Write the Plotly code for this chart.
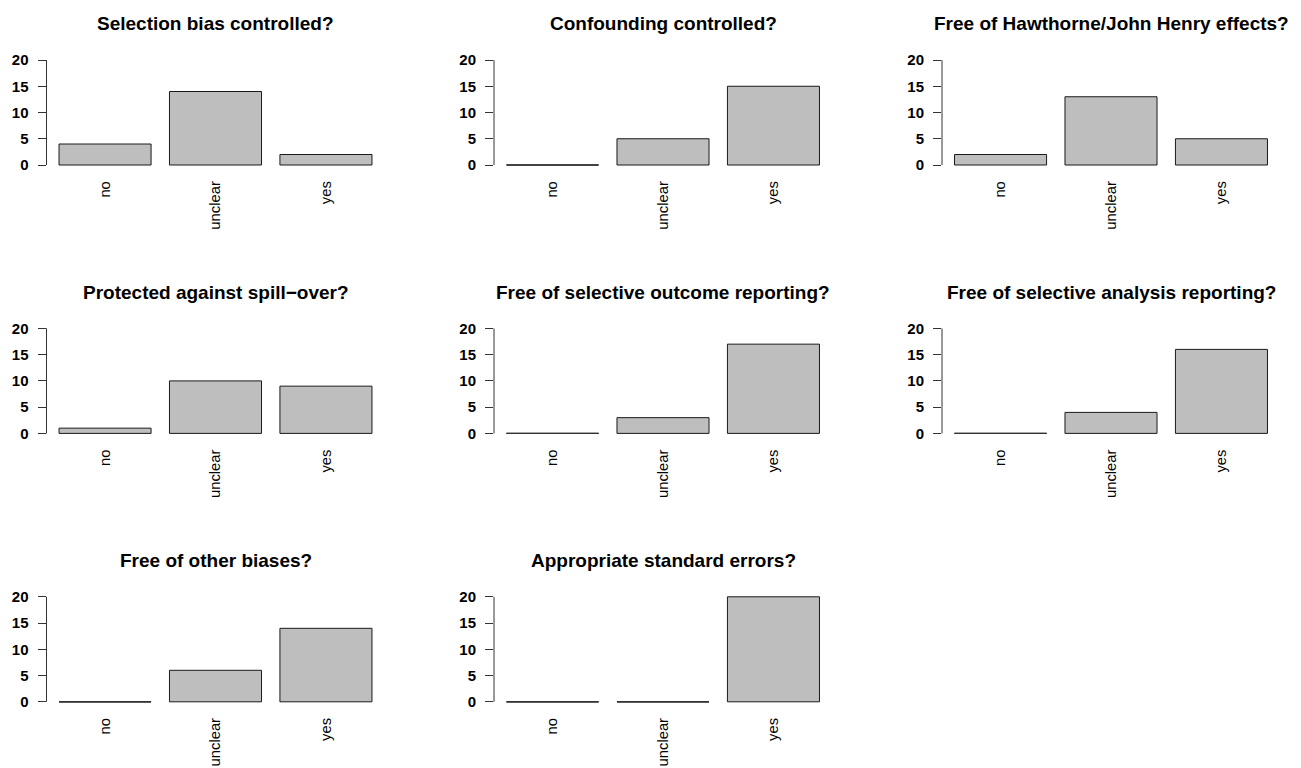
import plotly.graph_objects as go

# ---- data ----
categories = ["no", "unclear", "yes"]
titles = [
    "Selection bias controlled?",
    "Confounding controlled?",
    "Free of Hawthorne/John Henry effects?",
    "Protected against spill−over?",
    "Free of selective outcome reporting?",
    "Free of selective analysis reporting?",
    "Free of other biases?",
    "Appropriate standard errors?",
]
selection_bias = [4, 14, 2]
confounding = [0, 5, 15]
hawthorne = [2, 13, 5]
spill_over = [1, 10, 9]
outcome_reporting = [0, 3, 17]
analysis_reporting = [0, 4, 16]
other_biases = [0, 6, 14]
standard_errors = [0, 0, 20]
y_ticks = [0, 5, 10, 15, 20]

panels = [selection_bias, confounding, hawthorne, spill_over,
          outcome_reporting, analysis_reporting, other_biases, standard_errors]

# ---- layout geometry (pixels, page coordinates) ----
OFF = 8  # default body margin of the page
W, H = 1301 - OFF, 768 - OFF
col_left = [46.5, 494.0, 942.0]
plot_w = 338.0
row_top0, row_bot0, row_step = 55.8, 169.2, 268.4
title_y0 = 24.0
space = 0.2
bar_w = 1.0 / (1.0 + space)
pad = 0.53

FONT = "Liberation Sans"
fig = go.Figure()
layout = dict(
    width=W, height=H, margin=dict(l=0, r=0, t=0, b=0, autoexpand=False),
    plot_bgcolor="white", paper_bgcolor="white", showlegend=False,
    annotations=[], shapes=[],
)

for i, vals in enumerate(panels):
    r, c = divmod(i, 3)
    n = i + 1
    xa = "x" if n == 1 else f"x{n}"
    ya = "y" if n == 1 else f"y{n}"
    xkey = "xaxis" if n == 1 else f"xaxis{n}"
    ykey = "yaxis" if n == 1 else f"yaxis{n}"
    left = col_left[c] - OFF
    x0 = left / W
    x1 = min((left + plot_w) / W, 1.0)
    top = row_top0 + r * row_step - OFF
    bot = row_bot0 + r * row_step - OFF
    y0 = 1 - bot / H
    y1 = 1 - top / H
    idx = list(range(len(categories)))

    fig.add_trace(go.Bar(
        x=idx, y=vals, width=bar_w, xaxis=xa, yaxis=ya,
        marker=dict(color="#BEBEBE", line=dict(color="#1a1a1a", width=1)),
        hoverinfo="y",
    ))
    # zero-height bars are drawn by R as a flat border line
    zx, zy = [], []
    for k, v in zip(idx, vals):
        if v == 0:
            zx += [k - bar_w / 2, k + bar_w / 2, None]
            zy += [v, v, None]
    if zx:
        fig.add_trace(go.Scatter(
            x=zx, y=zy, mode="lines", xaxis=xa, yaxis=ya,
            line=dict(color="#333333", width=1.2), hoverinfo="skip",
        ))

    layout[xkey] = dict(
        domain=[x0, x1], anchor=ya, range=[-pad, len(categories) - 1 + pad],
        tickvals=idx, ticktext=categories, tickangle=-90,
        showgrid=False, zeroline=False, showline=False, ticks="",
        ticklabelstandoff=8, automargin=False,
        tickfont=dict(family=FONT, size=14.8, color="black"),
        fixedrange=True,
    )
    layout[ykey] = dict(
        domain=[y0, y1], anchor=xa, range=[-0.8, 20.8],
        tickvals=y_ticks, ticktext=[str(t) for t in y_ticks],
        ticks="outside", ticklen=8, tickcolor="#333333", tickwidth=1,
        showgrid=False, zeroline=False, showline=False,
        ticklabelstandoff=6, automargin=False,
        tickfont=dict(family=FONT, size=15, color="black", weight="bold"),
        fixedrange=True,
    )
    layout["shapes"].append(dict(
        type="line", xref=f"{xa} domain", yref=ya,
        x0=0, x1=0, y0=min(y_ticks), y1=max(y_ticks),
        line=dict(color="#333333", width=1),
    ))
    layout["annotations"].append(dict(
        text=titles[i], xref=f"{xa} domain", yref="paper",
        x=0.5, y=1 - (title_y0 + r * row_step - OFF) / H,
        xanchor="center", yanchor="middle", showarrow=False,
        font=dict(family=FONT, size=19, color="black", weight="bold"),
    ))

fig.update_layout(**layout)
fig.write_html("out.html")
